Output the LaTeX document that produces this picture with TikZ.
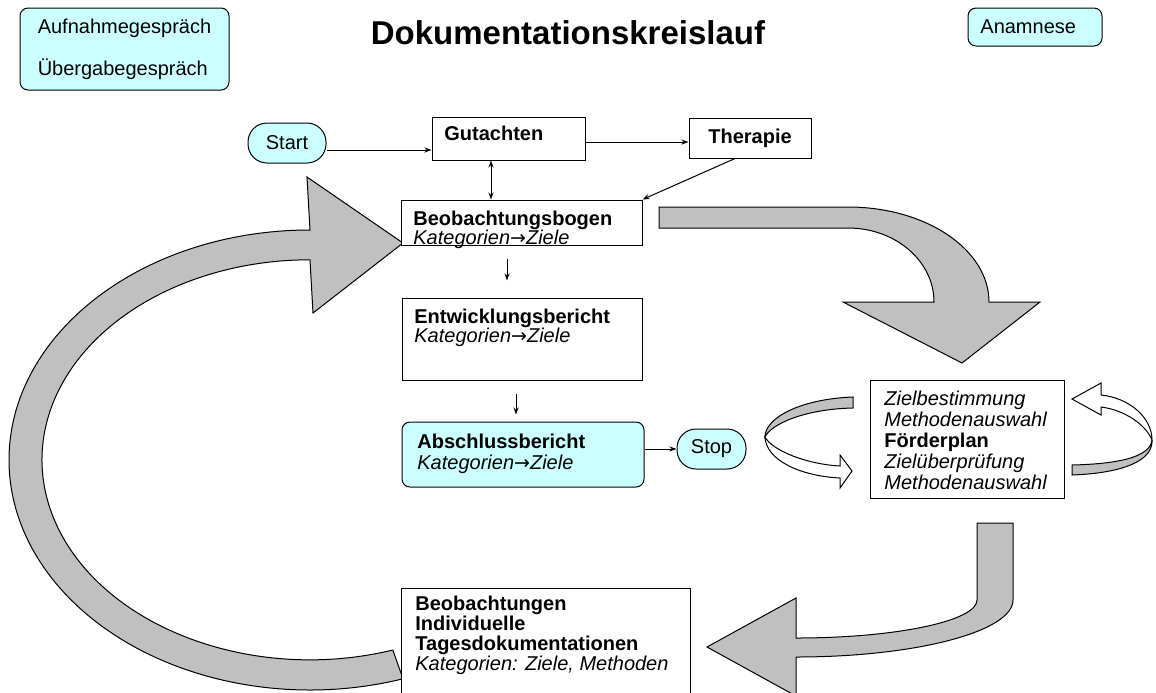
\documentclass[tikz,border=0pt]{standalone}
\usepackage{fontspec}
\setmainfont{Liberation Sans}
\newfontfamily\pfeilschrift{DejaVu Sans}
\usepackage{xcolor}
\usepackage{tikz}
\usetikzlibrary{arrows.meta,calc}
\definecolor{hellcyan}{HTML}{CCFFFF}
\definecolor{pfeilgrau}{HTML}{C0C0C0}
\newcommand{\zu}{{\pfeilschrift\upshape\fontsize{9.5}{9}\selectfont →}}

\begin{document}
\begin{tikzpicture}
  [x=0.5pt,y=-0.5pt,
   kasten/.style={draw,fill=white,line width=.5pt,inner sep=0pt},
   rund/.style={kasten,fill=hellcyan,rounded corners=4pt,font=\fontsize{10}{12}\selectfont},
   pille/.style={kasten,fill=hellcyan,rounded corners=9.5pt,font=\fontsize{10}{12}\selectfont},
   txt/.style={anchor=north west,align=left,inner sep=0pt},
   pfeil/.style={line width=.5pt,-{Stealth[length=3.5pt,width=2.5pt]}},
   pfeilzwei/.style={line width=.5pt,{Stealth[length=3.5pt,width=2.5pt]}-{Stealth[length=3.5pt,width=2.5pt]}},
   breit/.style={draw,fill=pfeilgrau,line width=.5pt,line join=miter},
   kringel/.style={draw,line width=.5pt,line join=miter}] % pixel grid of the slide, y downwards

  \clip (0,0) rectangle (1156,692);

  % big grey arrows of the cycle
  \draw[breit] (659,207) -- (848,207) arc[start angle=-90,end angle=0,x radius=141,y radius=95]
    -- (1040,302) -- (962,363) -- (843,302) -- (934,302)
    arc[start angle=0,end angle=-90,x radius=86,y radius=74] -- (659,228) -- cycle;
  \draw[breit] (977,523) -- (977,600) arc[start angle=0,end angle=90,x radius=181,y radius=38]
    -- (796,598) -- (707,647) -- (796,696) -- (796,657)
    arc[start angle=90,end angle=0,x radius=217,y radius=57] -- (1013,523) -- cycle;
  \draw[breit] (310,230) arc[start angle=-90,end angle=-288,x radius=301,y radius=230]
    -- (392.8,650) arc[start angle=-288,end angle=-90,x radius=268,y radius=200]
    -- (313,313) -- (403,243) -- (307,177) -- cycle;

  % small loop arrows round the Foerderplan
  \draw[kringel,fill=pfeilgrau] (853,397) .. controls (800,399) and (765,418) .. (765,437)
    .. controls (771,424) and (805,409) .. (853,408) -- cycle;
  \draw[kringel,fill=white] (765,437) .. controls (766,460) and (800,476) .. (840,478)
    -- (840,488) -- (852,471) -- (840,455) -- (840,466)
    .. controls (805,464) and (772,450) .. (765,437) -- cycle;
  \draw[kringel,fill=white] (1101,395) .. controls (1130,398) and (1152,418) .. (1152,440)
    .. controls (1146,425) and (1125,410) .. (1101,407) -- (1101,415) -- (1072,399)
    -- (1101,383) -- cycle;
  \draw[kringel,fill=pfeilgrau] (1152,440) .. controls (1150,458) and (1115,464) .. (1072,465)
    -- (1072,475) .. controls (1125,473) and (1153,460) .. (1152,440) -- cycle;

  % header
  \node[rund,minimum width=104.5pt,minimum height=41pt,align=left,font=\fontsize{10}{21}\selectfont] (auf) at (124.5,49) {Aufnahmegespräch\\Übergabegespräch};
  \node[font=\fontsize{16.5}{18}\selectfont\bfseries] (titel) at (568,33) {Dokumentationskreislauf};
  \node[rund,minimum width=67pt,minimum height=19pt] (anam) at (1035,27) {};
  \node[anchor=west,inner sep=0pt,font=\fontsize{10}{12}\selectfont] (anam-t) at (980,27) {Anamnese};

  % boxes
  \node[pille,minimum width=39pt,minimum height=20pt] (start) at (287,143) {Start};
  \node[kasten,minimum width=76.5pt,minimum height=21.5pt] (gut) at (508.5,138.5) {};
  \node[txt,font=\fontsize{10}{12}\selectfont\bfseries] (gut-t) at (444,126) {Gutachten};
  \node[kasten,minimum width=61pt,minimum height=20pt,font=\fontsize{10}{12}\selectfont\bfseries] (ther) at (750,138) {Therapie};
  \node[kasten,minimum width=120.5pt,minimum height=22.5pt] (bogen) at (521.5,222.5) {};
  \node[txt,font=\fontsize{10}{9.5}\selectfont] (bogen-t) at (413,211) {\textbf{Beobachtungsbogen}\\\textit{Kategorien\zu Ziele}};
  \node[kasten,minimum width=120pt,minimum height=41pt] (entw) at (522,339) {};
  \node[txt,font=\fontsize{10}{9.5}\selectfont] (entw-t) at (414,309) {\textbf{Entwicklungsbericht}\\\textit{Kategorien\zu Ziele}};
  \node[rund,minimum width=121pt,minimum height=32.5pt] (absch) at (523,454.5) {};
  \node[txt,font=\fontsize{10}{10.5}\selectfont] (absch-t) at (417,434) {\textbf{Abschlussbericht}\\\textit{Kategorien\zu Ziele}};
  \node[pille,minimum width=34.5pt,minimum height=20pt] (stop) at (711.5,449) {Stop};
  \node[kasten,minimum width=97pt,minimum height=59pt] (foerd) at (967,439) {};
  \node[txt,font=\fontsize{10}{10.5}\selectfont] (foerd-t) at (884,391) {\textit{Zielbestimmung}\\\textit{Methodenauswahl}\\\textbf{Förderplan}\\\textit{Zielüberprüfung}\\\textit{Methodenauswahl}};
  \node[kasten,minimum width=144.5pt,minimum height=56pt] (beob) at (545.5,644) {};
  \node[txt,font=\fontsize{10}{10}\selectfont] (beob-t) at (415,596) {\textbf{Beobachtungen}\\\textbf{Individuelle}\\\textbf{Tagesdokumentationen}\\\textit{Kategorien: Ziele, Methoden}};

  % small connectors
  \draw[pfeil] (start.east |- 0,150) -- (gut.west |- 0,150);
  \draw[pfeil] (gut.east |- 0,142) -- (ther.west |- 0,142);
  \draw[pfeilzwei] (gut.south -| 491,0) -- (bogen.north -| 491,0);
  \draw[pfeil] (ther.south -| 735,0) -- (bogen.north east);
  \draw[pfeil] ($(bogen.south)+(-14.5,13)$) -- ($(entw.north)+(-15,-17)$);
  \draw[pfeil] ($(entw.south)+(-6,13)$) -- ($(absch.north)+(-7,-7)$);
  \draw[pfeil] (absch.east |- stop.west) -- (stop.west);
\end{tikzpicture}
\end{document}
